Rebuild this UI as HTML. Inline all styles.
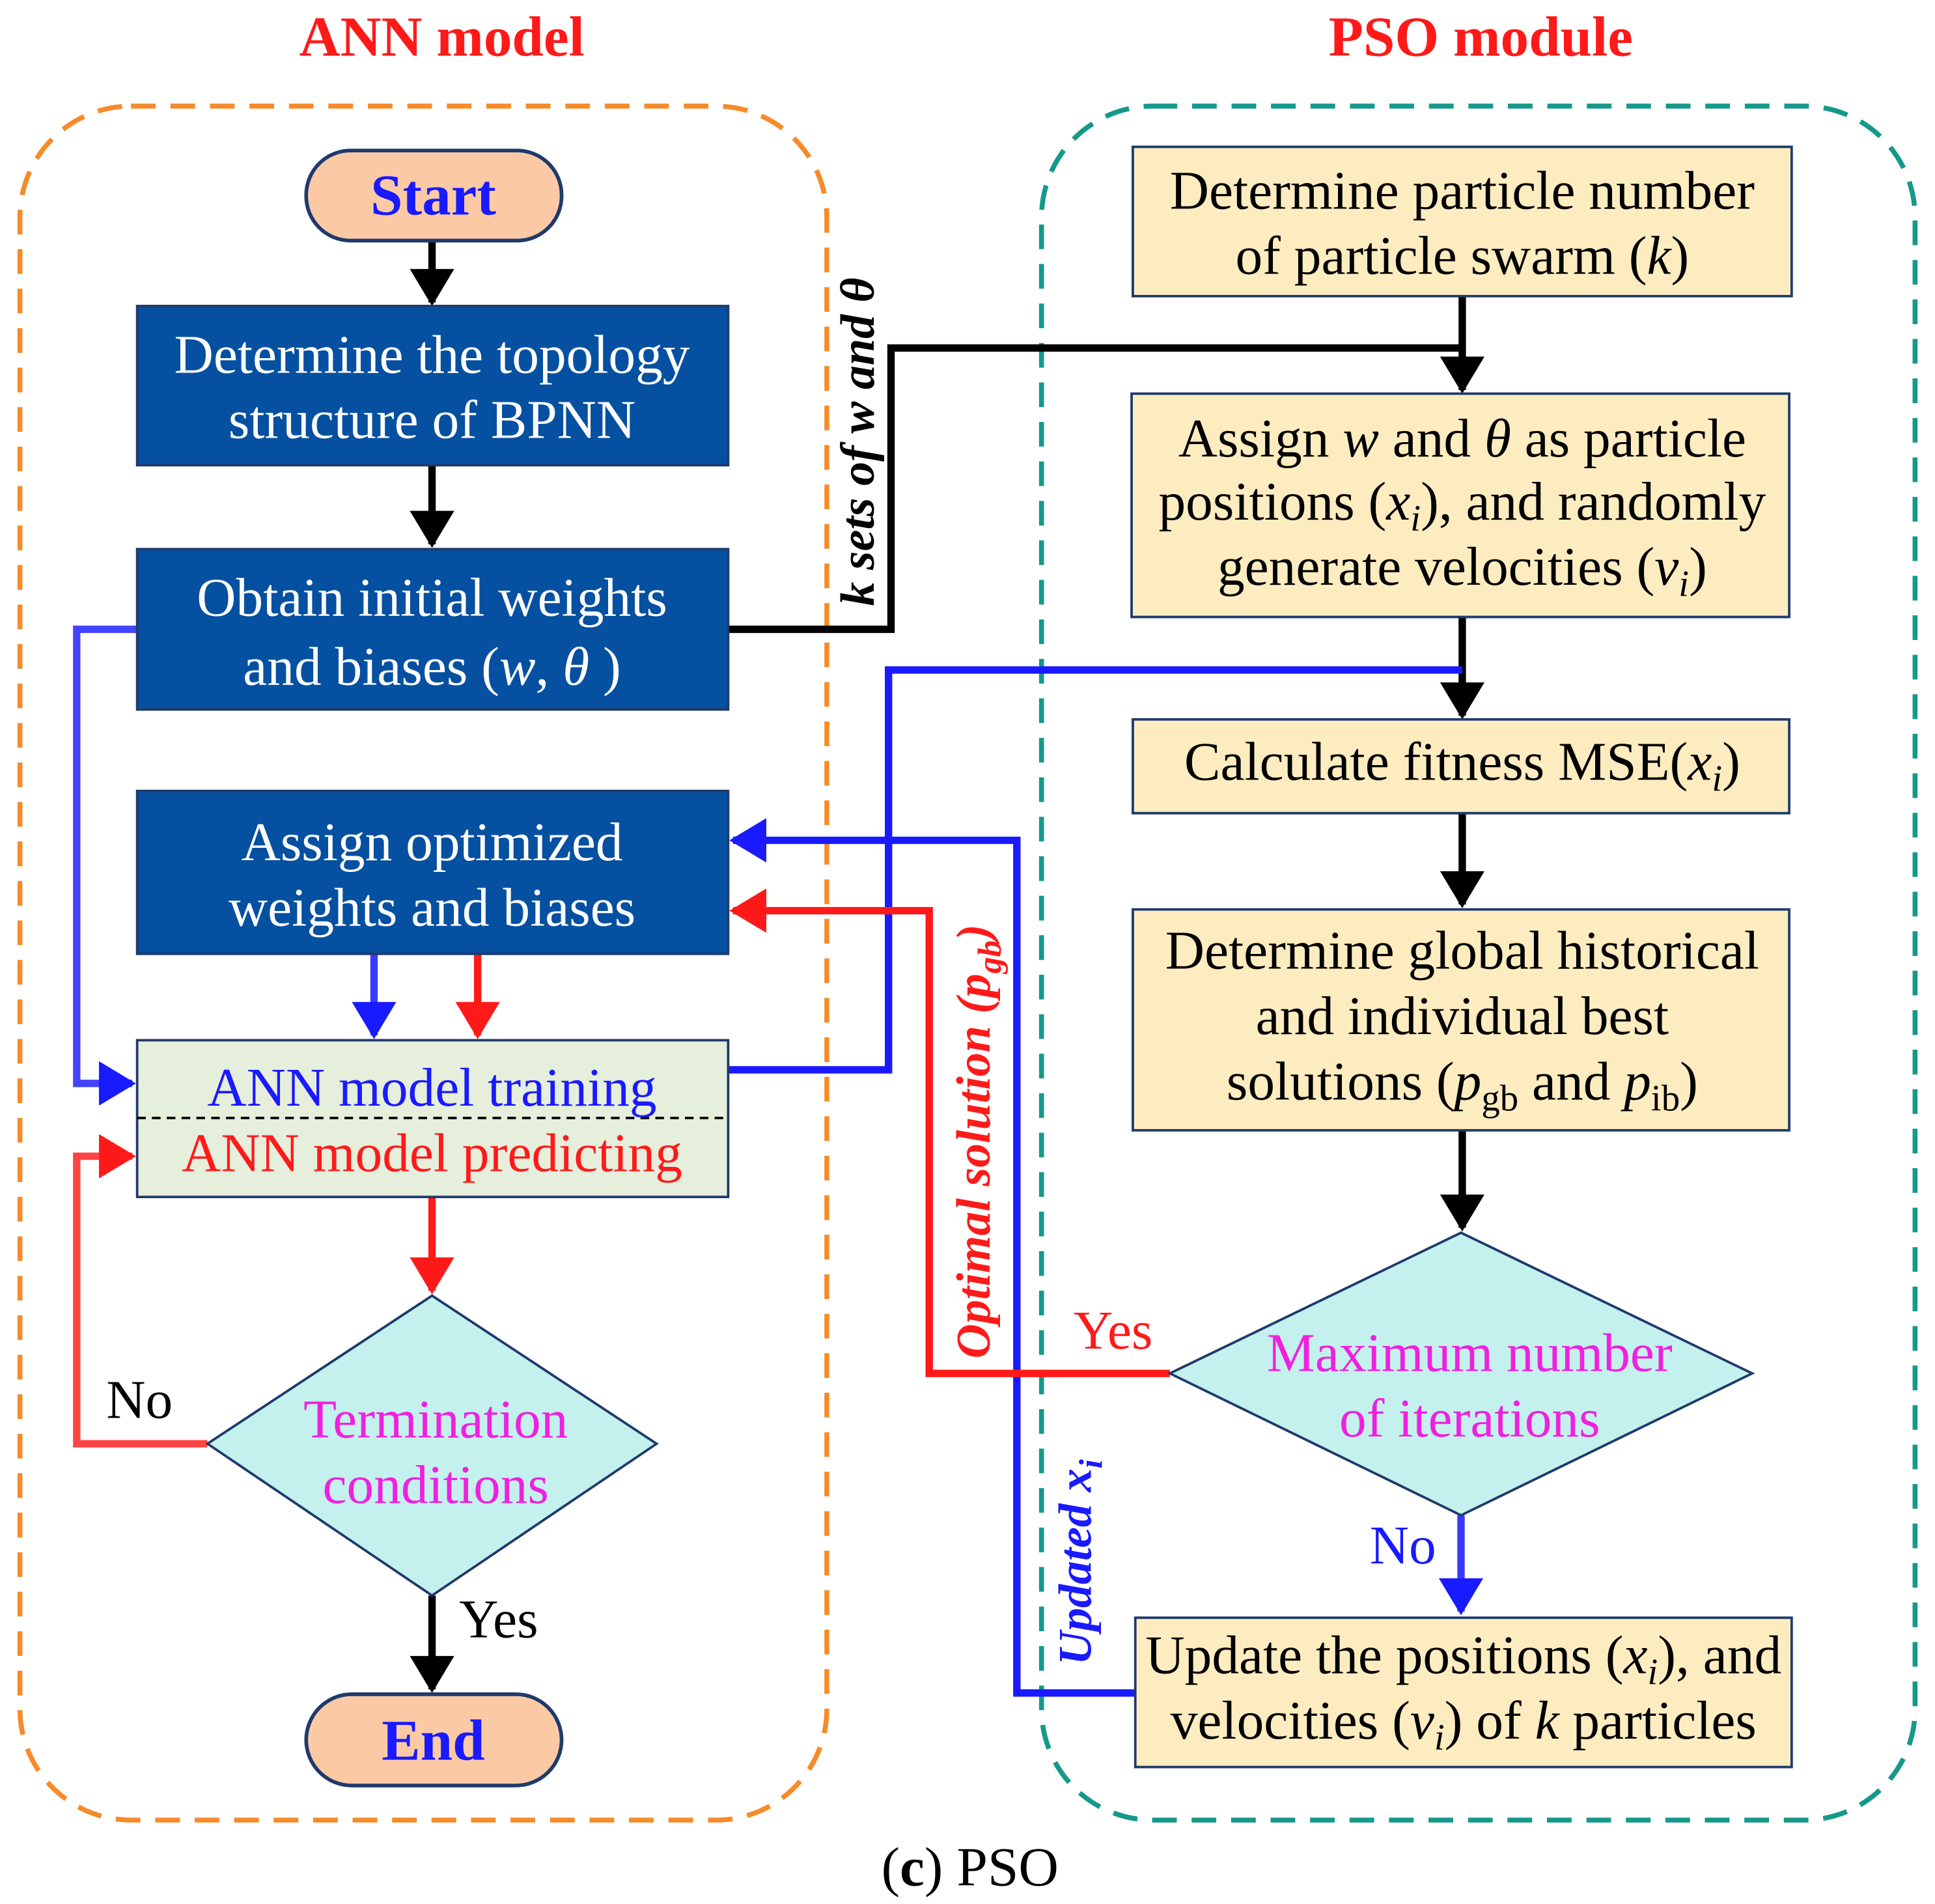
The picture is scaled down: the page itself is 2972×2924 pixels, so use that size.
<!DOCTYPE html>
<html><head><meta charset="utf-8"><style>html,body{margin:0;padding:0;background:#fff}svg{display:block}</style></head>
<body>
<svg width="2972" height="2924" viewBox="0 0 1568 1543" xmlns="http://www.w3.org/2000/svg" font-family="Liberation Serif, serif">
<defs>
<marker id="ak" markerWidth="6" markerHeight="6" refX="4.5" refY="3" orient="auto" markerUnits="strokeWidth"><path d="M0,0 L5,3 L0,6 Z" fill="#000"/></marker>
<marker id="ab" markerWidth="6" markerHeight="6" refX="4.5" refY="3" orient="auto" markerUnits="strokeWidth"><path d="M0,0 L5,3 L0,6 Z" fill="#1a1aff"/></marker>
<marker id="ar" markerWidth="6" markerHeight="6" refX="4.5" refY="3" orient="auto" markerUnits="strokeWidth"><path d="M0,0 L5,3 L0,6 Z" fill="#ff1a1a"/></marker>
</defs>
<text x="358" y="45" text-anchor="middle" font-size="46" font-weight="bold" fill="#ff1a1a">ANN model</text>
<text x="1200" y="45" text-anchor="middle" font-size="46" font-weight="bold" fill="#ff1a1a">PSO module</text>
<rect x="16" y="86" width="654" height="1389" rx="90" fill="none" stroke="#f68b2a" stroke-width="4" stroke-dasharray="20 12"/>
<rect x="844" y="86" width="708" height="1389" rx="90" fill="none" stroke="#14998a" stroke-width="4" stroke-dasharray="20 12"/>

<g fill="none" stroke-width="6">
<path d="M350,195 V245" stroke="#000" marker-end="url(#ak)"/>
<path d="M350,377 V441" stroke="#000" marker-end="url(#ak)"/>
<path d="M590,510 H722 V282 H1185" stroke="#000"/>
<path d="M1185,240 V316" stroke="#000" marker-end="url(#ak)"/>
<path d="M1185,500 V580" stroke="#000" marker-end="url(#ak)"/>
<path d="M1185,659 V733" stroke="#000" marker-end="url(#ak)"/>
<path d="M1185,916 V995" stroke="#000" marker-end="url(#ak)"/>
<path d="M350,1293 V1369" stroke="#000" marker-end="url(#ak)"/>
<path d="M303,773 V839" stroke="#3a3aff" marker-end="url(#ab)"/>
<path d="M387,773 V839" stroke="#ff1a1a" marker-end="url(#ar)"/>
<path d="M350,970 V1046" stroke="#ff1a1a" marker-end="url(#ar)"/>
<path d="M111,510 H62 V878 H107" stroke="#4444ff" marker-end="url(#ab)"/>
<path d="M168,1170 H62 V937 H107" stroke="#ff4444" marker-end="url(#ar)"/>
<path d="M590,867 H720 V543 H1185" stroke="#1a1aff"/>
<path d="M920,1372 H824 V681 H594" stroke="#1a1aff" marker-end="url(#ab)"/>
<path d="M948,1113 H753 V738 H594" stroke="#ff1a1a" marker-end="url(#ar)"/>
<path d="M1184,1228 V1306" stroke="#3a3aff" marker-end="url(#ab)"/>
</g>

<rect x="248" y="122" width="207" height="73" rx="36" fill="#fbcaa5" stroke="#1f3a6b" stroke-width="3"/>
<text x="351" y="174" text-anchor="middle" font-size="47" font-weight="bold" fill="#1a1aff">Start</text>
<g fill="#0550a0" stroke="#1f3a6b" stroke-width="2">
<rect x="111" y="248" width="479" height="129"/>
<rect x="111" y="445" width="479" height="130"/>
<rect x="111" y="641" width="479" height="132"/>
</g>
<g font-size="44" fill="#fff" text-anchor="middle">
<text x="350" y="302">Determine the topology</text>
<text x="350" y="355">structure of BPNN</text>
<text x="350" y="499">Obtain initial weights</text>
<text x="350" y="555">and biases (<tspan font-style="italic">w</tspan>, <tspan font-style="italic">θ</tspan> )</text>
<text x="350" y="697">Assign optimized</text>
<text x="350" y="750">weights and biases</text>
</g>
<rect x="111" y="843" width="479" height="127" fill="#e6eedc" stroke="#1f3a6b" stroke-width="2"/>
<line x1="111" y1="906" x2="590" y2="906" stroke="#000" stroke-width="2" stroke-dasharray="7 5"/>
<text x="350" y="896" text-anchor="middle" font-size="44" fill="#1a1aff">ANN model training</text>
<text x="350" y="949" text-anchor="middle" font-size="44" fill="#ff1a1a">ANN model predicting</text>
<polygon points="350,1050 532,1170 350,1293 168,1170" fill="#c4f1ee" stroke="#1f3a6b" stroke-width="2"/>
<text x="353" y="1165" text-anchor="middle" font-size="44" fill="#f020e0">Termination</text>
<text x="353" y="1218" text-anchor="middle" font-size="44" fill="#f020e0">conditions</text>
<text x="86" y="1149" font-size="44" fill="#000">No</text>
<text x="372" y="1327" font-size="44" fill="#000">Yes</text>
<rect x="248" y="1373" width="207" height="74" rx="37" fill="#fbcaa5" stroke="#1f3a6b" stroke-width="3"/>
<text x="351" y="1426" text-anchor="middle" font-size="47" font-weight="bold" fill="#1a1aff">End</text>

<g fill="#fdecc0" stroke="#1f3a6b" stroke-width="2">
<rect x="918" y="119" width="534" height="121"/>
<rect x="917" y="319" width="533" height="181"/>
<rect x="918" y="583" width="532" height="76"/>
<rect x="918" y="737" width="532" height="179"/>
<rect x="920" y="1311" width="532" height="121"/>
</g>
<g font-size="44" fill="#000" text-anchor="middle">
<text x="1185" y="169">Determine particle number</text>
<text x="1185" y="222">of particle swarm (<tspan font-style="italic">k</tspan>)</text>
<text x="1185" y="370">Assign <tspan font-style="italic">w</tspan> and <tspan font-style="italic">θ</tspan> as particle</text>
<text x="1185" y="421">positions (<tspan font-style="italic">x<tspan font-size="30" dy="9">i</tspan></tspan><tspan dy="-9">), and randomly</tspan></text>
<text x="1185" y="474">generate velocities (<tspan font-style="italic">v<tspan font-size="30" dy="9">i</tspan></tspan><tspan dy="-9">)</tspan></text>
<text x="1185" y="632">Calculate fitness MSE(<tspan font-style="italic">x<tspan font-size="30" dy="9">i</tspan></tspan><tspan dy="-9">)</tspan></text>
<text x="1185" y="785">Determine global historical</text>
<text x="1185" y="838">and individual best</text>
<text x="1185" y="891">solutions (<tspan font-style="italic">p</tspan><tspan font-size="30" dy="9">gb</tspan><tspan dy="-9"> and </tspan><tspan font-style="italic">p</tspan><tspan font-size="30" dy="9">ib</tspan><tspan dy="-9">)</tspan></text>
<text x="1186" y="1356">Update the positions (<tspan font-style="italic">x<tspan font-size="30" dy="9">i</tspan></tspan><tspan dy="-9">), and</tspan></text>
<text x="1186" y="1409">velocities (<tspan font-style="italic">v<tspan font-size="30" dy="9">i</tspan></tspan><tspan dy="-9">) of </tspan><tspan font-style="italic">k</tspan> particles</text>
</g>
<polygon points="1184,999 1420,1113 1184,1228 948,1113" fill="#c4f1ee" stroke="#1f3a6b" stroke-width="2"/>
<text x="1191" y="1111" text-anchor="middle" font-size="44" fill="#f020e0">Maximum number</text>
<text x="1191" y="1164" text-anchor="middle" font-size="44" fill="#f020e0">of iterations</text>
<text x="870" y="1093" font-size="44" fill="#ff1a1a">Yes</text>
<text x="1110" y="1267" font-size="44" fill="#1a1aff">No</text>

<text transform="translate(708,358) rotate(-90)" text-anchor="middle" font-size="39" font-style="italic" font-weight="bold" fill="#000">k sets of w and θ</text>
<text transform="translate(802,925) rotate(-90)" text-anchor="middle" font-size="39" font-style="italic" font-weight="bold" fill="#ff1a1a">Optimal solution (p<tspan font-size="27" dy="9">gb</tspan><tspan dy="-9">)</tspan></text>
<text transform="translate(884,1266) rotate(-90)" text-anchor="middle" font-size="38" font-style="italic" font-weight="bold" fill="#1a1aff">Updated x<tspan font-size="27" dy="9">i</tspan></text>

<text x="786" y="1528" text-anchor="middle" font-size="45" fill="#000">(<tspan font-weight="bold">c</tspan>) PSO</text>
</svg>
</body></html>
